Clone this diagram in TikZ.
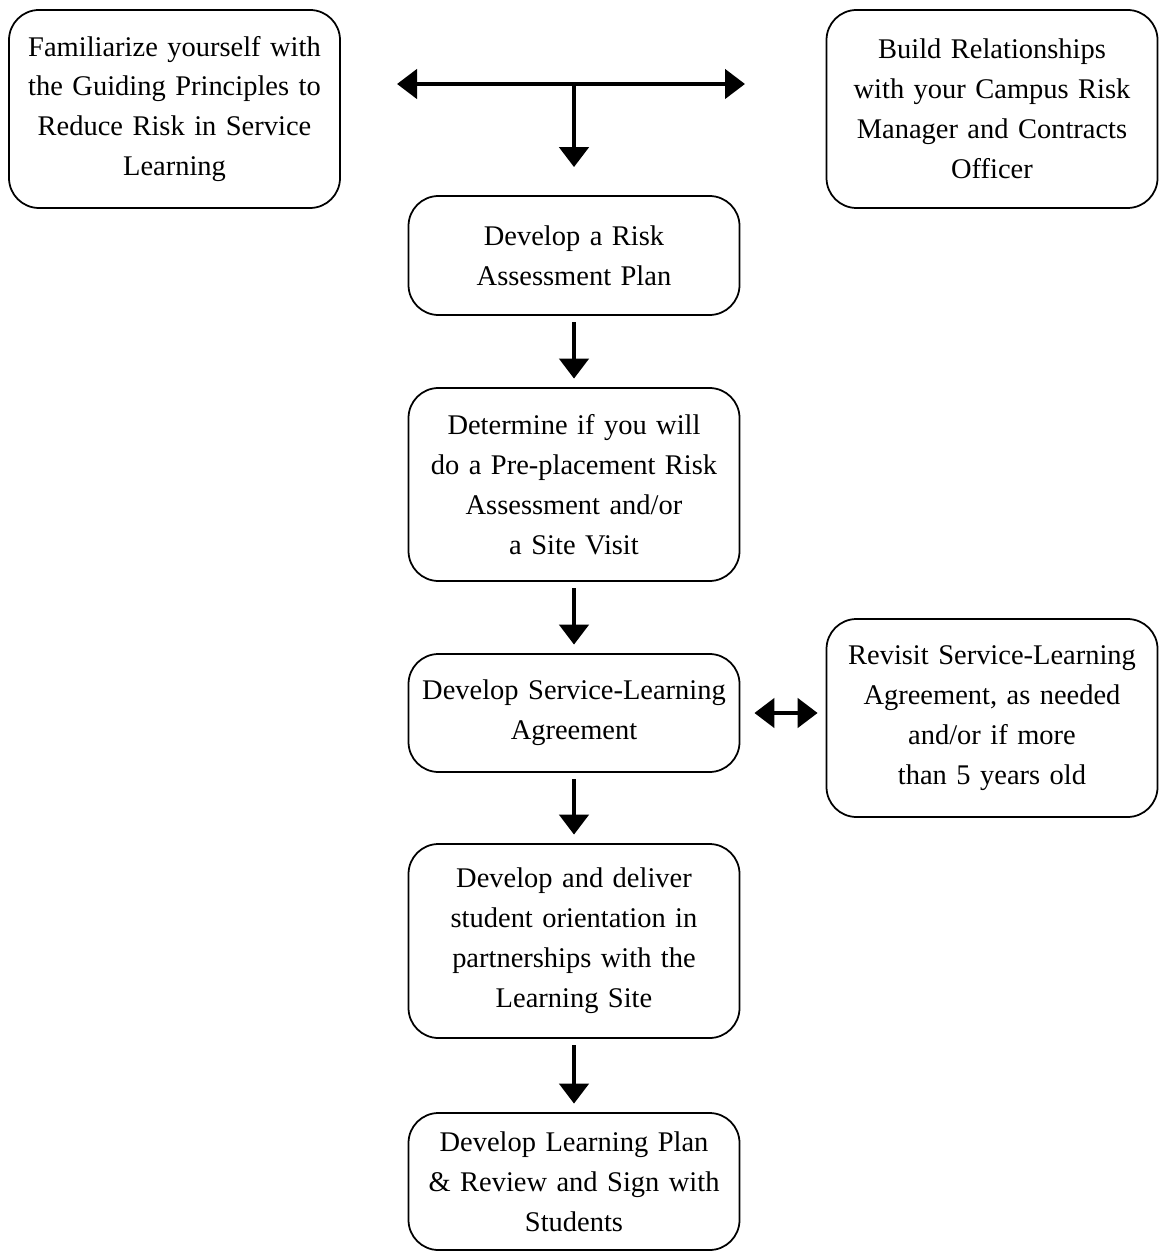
\documentclass[tikz,border=0pt]{standalone}
\usepackage{fontspec}
\setmainfont{Liberation Serif}
\usetikzlibrary{arrows.meta}

\tikzset{
  StepBox/.style={draw,line width=1pt,rounded corners=0.6cm,align=center,
    inner xsep=0pt,text width=6.3cm,minimum width=6.62cm,
    font=\fontsize{16.2}{22.7}\selectfont},
  FlowArrow/.style={line width=2.6pt,-{Triangle[width=0.58cm,length=0.4cm]}},
  BothArrow/.style={line width=2.6pt,
    {Triangle[width=0.58cm,length=0.4cm]}-{Triangle[width=0.58cm,length=0.4cm]}}
}

\begin{document}
\begin{tikzpicture}
            \useasboundingbox (0,0) rectangle (23.16,-25.04);

            \node[StepBox,minimum height=3.96cm] (guide) at (3.49,-2.18)
              {Familiarize yourself with\\ the Guiding Principles to\\ Reduce Risk in Service\\ Learning};
            \node[StepBox,minimum height=3.96cm] (build) at (19.84,-2.18)
              {Build Relationships\\ with your Campus Risk\\ Manager and Contracts\\ Officer};

            \node[StepBox,minimum height=2.38cm] (risk) at (11.48,-5.11)
              {Develop a Risk\\ Assessment Plan};
            \node[StepBox,minimum height=3.86cm] (determine) at (11.48,-9.69)
              {Determine if you will\\ do a Pre-placement Risk\\ Assessment and/or\\ a Site Visit};
            \node[StepBox,minimum height=2.36cm] (agree) at (11.48,-14.26)
              {Develop Service-Learning\\ Agreement};
            \node[StepBox,minimum height=3.96cm] (revisit) at (19.84,-14.36)
              {Revisit Service-Learning\\ Agreement, as needed\\ and/or if more\\ than 5 years old};
            \node[StepBox,minimum height=3.88cm] (orient) at (11.48,-18.82)
              {Develop and deliver\\ student orientation in\\ partnerships with the\\ Learning Site};
            \node[StepBox,minimum height=2.74cm] (plan) at (11.48,-23.63)
              {Develop Learning Plan\\ \& Review and Sign with\\ Students};

            % top junction
            \coordinate (tipL) at (7.94,-1.68);
            \coordinate (tipR) at (14.9,-1.68);
            \coordinate (split) at (11.48,-1.68);
            \draw[BothArrow] (tipL) -- (tipR);
            \draw[FlowArrow,shorten >=0.56cm] (split) -- (risk.north);

            \draw[FlowArrow,shorten <=0.13cm,shorten >=0.17cm] (risk.south) -- (determine.north);
            \draw[FlowArrow,shorten <=0.13cm,shorten >=0.17cm] (determine.south) -- (agree.north);
            \draw[FlowArrow,shorten <=0.13cm,shorten >=0.17cm] (agree.south) -- (orient.north);
            \draw[FlowArrow,shorten <=0.13cm,shorten >=0.17cm] (orient.south) -- (plan.north);

            \draw[BothArrow,shorten <=0.28cm,shorten >=0.16cm] (agree.east) -- (agree.east -| revisit.west);
\end{tikzpicture}
\end{document}
